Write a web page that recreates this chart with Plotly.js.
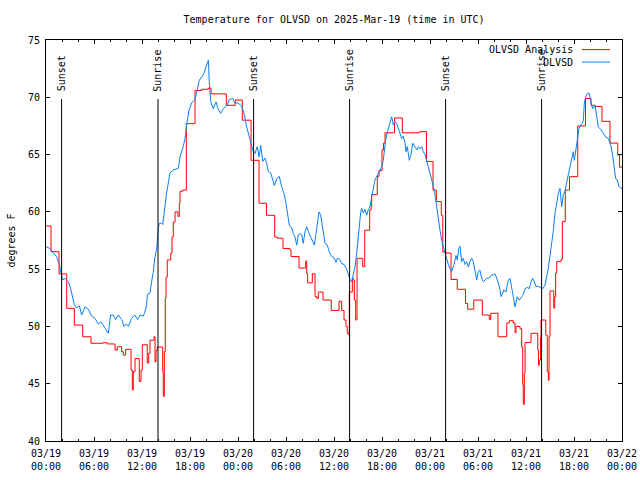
<!DOCTYPE html>
<html>
<head>
<meta charset="utf-8">
<script src="https://cdn.plot.ly/plotly-3.0.1.min.js"></script>
<style>html,body{margin:0;padding:0;background:#fff;}#chart{width:640px;height:480px;}</style>
</head>
<body>
<div id="chart"></div>
<script>
// Observations (hours since 2025-03-19 00:00 UTC, deg F)
const obsHours = [0.0,0.5,0.92,1.33,1.63,1.83,2.08,2.38,2.79,3.08,3.29,3.54,3.83,4.17,4.46,4.88,5.29,5.71,6.13,6.54,6.88,7.17,7.58,7.79,8.08,8.4,8.7,9.04,9.46,9.75,10.0,10.3,10.7,11.1,11.46,11.75,12.17,12.5,12.7,13.0,13.2,13.4,13.6,13.84,14.04,14.17,14.46,14.6,14.75,15.09,15.5,15.9,16.54,16.75,17.16,17.38,17.6,17.9,18.2,18.6,18.9,19.16,19.66,19.96,20.3,20.4,20.6,20.9,21.25,21.5,21.84,22.16,22.66,22.9,23.34,23.6,24.04,24.46,24.75,25.09,25.4,25.7,25.84,26.13,26.41,26.63,26.84,27.09,27.38,27.59,27.79,28.09,28.29,28.54,28.84,29.16,29.46,29.75,30.0,30.16,30.41,30.71,30.91,31.13,31.34,31.54,31.75,31.96,32.16,32.38,32.59,32.79,33.09,33.34,33.54,33.75,33.91,34.13,34.34,34.59,34.88,35.16,35.41,35.71,36.0,36.25,36.41,36.66,36.96,37.25,37.5,37.79,38.0,38.21,38.41,38.63,38.84,39.04,39.16,39.34,39.46,39.66,39.88,40.09,40.29,40.5,40.71,40.91,41.13,41.34,41.54,41.75,41.96,42.16,42.29,42.46,42.66,42.88,43.09,43.21,43.41,43.63,43.84,44.04,44.25,44.46,44.66,44.88,45.0,45.16,45.41,45.63,45.84,46.13,46.34,46.54,46.75,46.96,47.16,47.38,47.59,47.79,48.0,48.21,48.41,48.63,48.84,49.04,49.25,49.46,49.66,49.88,50.09,50.29,50.59,50.71,51.0,51.25,51.41,51.59,51.75,51.96,52.16,52.38,52.59,52.79,53.0,53.21,53.41,53.63,53.84,54.04,54.25,54.46,54.66,54.88,55.09,55.29,55.5,55.71,55.91,56.13,56.34,56.54,56.75,56.88,57.09,57.25,57.5,57.79,58.0,58.21,58.41,58.63,58.75,58.91,59.16,59.34,59.59,59.88,60.16,60.41,60.63,60.84,61.04,61.25,61.54,61.75,62.09,62.38,62.59,62.79,63.0,63.21,63.41,63.63,63.84,64.04,64.25,64.46,64.66,64.88,65.09,65.29,65.5,65.71,65.91,66.04,66.25,66.41,66.63,66.88,67.16,67.29,67.46,67.71,67.91,68.09,68.34,68.63,68.84,69.04,69.34,69.66,70.0,70.29,70.59,70.79,71.0,71.21,71.41,71.63,71.84,72.0];
const obsTemp = [56.96,56.8,56.4,56.1,55.5,54.8,54.05,54.2,53.9,53.3,52.6,51.9,51.6,51.8,51.0,51.7,51.5,50.9,50.7,50.2,50.4,50.1,49.7,49.4,51.0,51.0,50.6,51.0,50.6,50.0,50.2,50.0,50.7,51.0,50.6,51.0,50.9,51.6,52.8,52.9,53.9,54.7,56.0,56.8,58.6,59.0,59.0,58.9,59.8,61.7,63.4,63.65,63.8,64.8,65.7,66.4,67.7,68.9,69.5,69.8,70.6,71.5,71.95,72.5,73.25,71.4,69.6,69.0,69.6,69.0,68.6,69.0,69.3,69.8,69.9,69.5,69.5,69.2,68.6,67.4,66.6,65.7,65.4,65.1,65.7,64.8,65.8,64.4,64.7,64.2,63.5,63.4,62.8,62.3,62.9,63.1,62.2,61.6,60.75,59.9,58.85,58.6,58.1,57.8,57.1,58.0,58.1,58.0,57.25,58.3,58.7,58.3,57.8,57.4,57.1,58.1,59.0,60.0,59.7,58.7,57.25,57.1,56.5,56.1,56.0,55.6,55.95,55.9,55.5,55.4,55.1,54.6,54.05,53.9,54.5,55.2,56.4,58.0,58.85,60.0,60.3,59.9,60.2,59.7,60.2,60.45,61.3,61.9,62.8,63.1,63.4,63.65,63.9,64.5,65.4,66.3,66.9,67.4,68.0,68.3,67.6,67.9,67.7,67.3,66.9,66.4,66.6,66.0,65.25,65.7,64.5,65.0,66.0,65.7,65.4,65.7,65.5,65.7,65.25,65.0,64.5,63.9,63.4,62.8,62.2,61.5,60.45,59.3,58.4,57.5,56.96,56.5,55.95,55.4,54.9,54.8,55.4,56.2,55.8,56.8,57.0,55.65,55.95,55.4,55.65,55.2,55.65,55.95,55.65,54.9,54.05,54.8,54.9,54.2,53.9,54.05,54.2,54.2,54.3,54.5,54.5,54.6,54.2,53.8,53.2,52.6,52.9,53.2,53.0,54.05,54.2,53.5,52.6,51.7,52.2,52.6,52.3,52.45,52.7,53.3,53.4,53.3,53.9,54.2,53.9,53.5,53.5,53.4,53.3,53.6,54.3,55.1,56.2,57.25,58.3,59.9,60.75,61.6,62.05,60.45,61.5,61.8,62.6,63.2,63.8,64.5,65.25,64.5,65.4,66.3,67.3,67.6,67.9,69.5,70.05,70.35,70.35,69.6,69.0,69.3,68.3,67.4,67.2,66.9,66.5,66.4,65.8,65.1,64.1,62.9,62.8,62.2,62.1,62.0];

// Analysis (step values, hours since 2025-03-19 00:00 UTC, deg F)
const anaHours = [0.0,0.63,1.63,2.59,3.54,4.59,5.63,7.13,7.66,8.63,8.91,9.46,9.66,9.96,10.63,10.79,10.91,11.13,11.66,11.88,12.04,12.66,12.84,13.0,13.5,13.63,13.75,13.91,14.59,14.66,14.79,14.91,15.0,15.16,15.59,15.75,15.91,16.13,16.5,16.66,16.75,17.09,17.54,18.63,19.46,20.29,20.63,22.54,23.66,24.54,25.63,26.63,27.56,28.59,28.91,29.63,30.5,30.63,31.63,32.46,32.59,32.71,33.29,33.63,33.84,34.04,34.63,35.66,36.63,36.96,37.25,37.5,37.66,37.84,37.91,38.29,38.41,38.54,38.71,38.88,39.59,39.84,40.46,40.63,40.71,41.41,41.63,42.0,42.19,42.38,43.56,44.54,46.69,47.56,48.38,48.79,49.41,49.6,50.0,50.63,51.41,52.44,52.71,53.47,54.54,55.41,55.59,56.5,57.59,57.91,58.41,58.63,58.75,59.25,59.46,59.59,59.66,59.79,59.88,60.63,61.47,61.56,61.66,61.81,61.88,62.47,62.66,62.79,62.88,63.0,63.47,63.59,63.71,63.84,64.38,64.54,64.91,65.44,66.47,67.44,68.13,68.63,69.5,70.5,71.47,71.69,72.0];
const anaTemp = [58.76,56.52,54.58,51.58,50.12,49.1,48.53,48.58,48.47,47.94,48.23,47.8,47.5,48.0,46.2,44.45,46.05,47.2,45.2,46.2,48.4,46.8,47.65,48.8,49.1,46.9,47.9,48.2,46.05,43.9,47.8,52.45,54.3,55.8,56.4,57.8,59.1,60.0,59.6,60.75,61.8,61.9,67.7,70.6,70.7,70.8,70.3,69.3,69.76,68.0,64.5,60.75,59.7,57.8,57.7,56.8,56.67,56.1,55.1,55.7,54.6,53.8,54.6,52.6,52.45,53.0,52.3,51.4,52.2,51.4,50.56,50.0,49.4,49.25,53.0,54.2,54.05,52.3,50.56,55.95,55.2,58.4,60.16,60.45,61.5,63.1,63.6,65.4,66.0,66.9,68.2,66.9,67.0,64.4,61.9,60.9,59.7,56.5,56.4,54.1,53.24,52.0,51.5,52.3,51.0,50.6,51.15,49.1,50.3,50.5,50.3,49.45,50.0,49.8,48.2,44.9,43.2,45.9,48.6,49.4,47.94,46.6,47.07,49.0,50.56,49.25,46.05,45.3,49.1,53.1,51.6,52.6,54.66,55.65,55.85,59.14,61.9,63.07,67.5,69.9,69.3,69.2,67.9,66.0,64.96,63.9,63.9];

// Sun events
const eventHours = [1.95, 14.0, 25.95, 37.95, 49.95, 61.95];
const eventLabels = ["Sunset", "Sunrise", "Sunset", "Sunrise", "Sunset", "Sunrise"];

const seriesNames = ["OLVSD Analysis", "OLVSD"];
const seriesColors = ["#ff0000", "#0a80f0"];

const T0 = Date.UTC(2025, 2, 19);
function toDate(h) {
  return new Date(T0 + Math.round(h * 3600000)).toISOString().replace('T', ' ').slice(0, 19);
}

const FONT = "DejaVu Sans Mono, Liberation Mono, monospace";

const traces = [
  {
    x: anaHours.map(toDate), y: anaTemp, type: 'scatter', mode: 'lines',
    line: {color: seriesColors[0], width: 1, shape: 'hv'}, name: seriesNames[0], showlegend: false
  },
  {
    x: obsHours.map(toDate), y: obsTemp, type: 'scatter', mode: 'lines',
    line: {color: seriesColors[1], width: 1}, name: seriesNames[1], showlegend: false
  }
];

const shapes = [];
const annotations = [];
eventHours.forEach((h, i) => {
  shapes.push({type: 'line', xref: 'x', yref: 'paper', x0: toDate(h), x1: toDate(h), y0: 0, y1: 0.853,
    line: {color: '#000', width: 1}});
  annotations.push({xref: 'x', yref: 'paper', x: toDate(h), y: 0.866, text: eventLabels[i], textangle: -90,
    showarrow: false, xanchor: 'center', yanchor: 'bottom', font: {family: FONT, size: 10, color: '#000'}});
});
// legend (gnuplot style: text then sample)
const legY = [0.976, 0.945];
seriesNames.forEach((n, i) => {
  annotations.push({xref: 'paper', yref: 'paper', x: 0.918, y: legY[i], text: n, showarrow: false,
    xanchor: 'right', yanchor: 'middle', font: {family: FONT, size: 10, color: '#000'}});
  shapes.push({type: 'line', xref: 'paper', yref: 'paper', x0: 0.9306, x1: 0.979, y0: legY[i], y1: legY[i],
    line: {color: seriesColors[i], width: 1}});
});

const layout = {
  width: 640, height: 480,
  margin: {l: 46, r: 18, t: 40, b: 39, pad: 0},
  paper_bgcolor: '#fff', plot_bgcolor: '#fff',
  font: {family: FONT, size: 10, color: '#000'},
  title: {text: 'Temperature for OLVSD on 2025-Mar-19 (time in UTC)', x: 0.522, xanchor: 'center', y: 0.96, yanchor: 'middle',
    font: {family: FONT, size: 10, color: '#000'}},
  showlegend: false,
  xaxis: {
    type: 'date', range: [toDate(0), toDate(72)], dtick: 6 * 3600000, tick0: toDate(0),
    tickformat: '%m/%d<br>%H:%M', ticks: 'inside', ticklen: 4, tickcolor: '#000', tickwidth: 1,
    showline: true, linecolor: '#000', linewidth: 1, mirror: 'ticks', showgrid: false, zeroline: false,
    minor: {dtick: 2 * 3600000, tick0: toDate(0), ticks: 'inside', ticklen: 2, tickcolor: '#000', showgrid: false},
    tickfont: {family: FONT, size: 10, color: '#000'}, ticklabelstandoff: 3, fixedrange: true
  },
  yaxis: {
    range: [40, 75], dtick: 5, ticks: 'inside', ticklen: 4, tickcolor: '#000',
    showline: true, linecolor: '#000', linewidth: 1, mirror: 'ticks', showgrid: false, zeroline: false,
    tickfont: {family: FONT, size: 10, color: '#000'}, ticklabelstandoff: 3,
    title: {text: 'degrees F', font: {family: FONT, size: 10, color: '#000'}, standoff: 10}, fixedrange: true
  },
  shapes: shapes,
  annotations: annotations
};

Plotly.newPlot('chart', traces, layout, {displayModeBar: false, staticPlot: true});
</script>
</body>
</html>
